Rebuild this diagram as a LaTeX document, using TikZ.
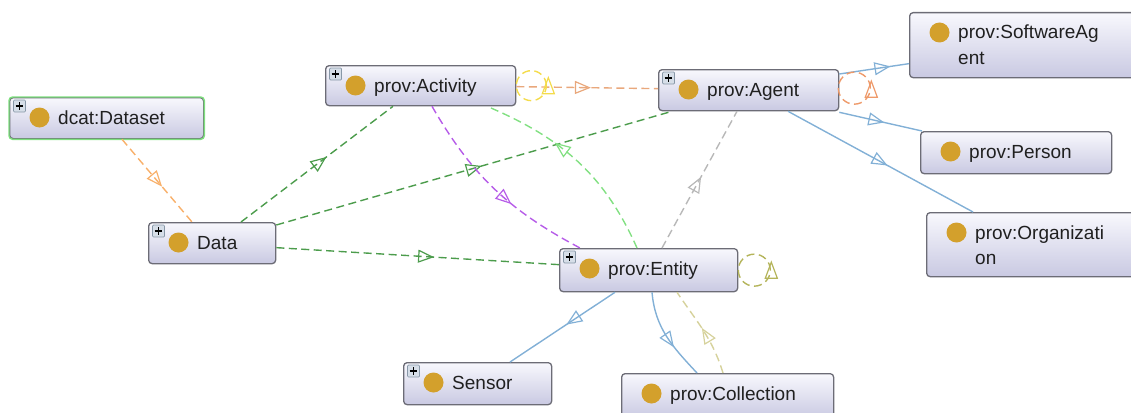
\documentclass[tikz,border=0pt]{standalone}
\usepackage{fontspec}
\setmainfont{Liberation Sans}
\usetikzlibrary{arrows.meta,decorations.markings}
\definecolor{boxtop}{HTML}{F8F8FD}
\definecolor{boxbot}{HTML}{C9C9E2}
\definecolor{boxborder}{HTML}{6C6C76}
\definecolor{dsborder}{HTML}{7EE07E}
\definecolor{gold}{HTML}{D3A02C}
\definecolor{txt}{HTML}{202020}
\definecolor{plusfill}{HTML}{D6DEE8}
\definecolor{plusdraw}{HTML}{8898A8}
\definecolor{orangeA}{HTML}{F8B06A}
\definecolor{orangeB}{HTML}{E9A87C}
\definecolor{orangeC}{HTML}{EE9A6A}
\definecolor{greenD}{HTML}{4C9C4C}
\definecolor{greenL}{HTML}{82E082}
\definecolor{purp}{HTML}{B65CE8}
\definecolor{grayE}{HTML}{B8B8B8}
\definecolor{blueE}{HTML}{82B0D6}
\definecolor{yellowE}{HTML}{F4DC4C}
\definecolor{oliveE}{HTML}{B4B45A}
\definecolor{oliveL}{HTML}{D6D29C}
\tikzset{
  x=1pt, y=-1pt,
  cls/.style={draw=boxborder, line width=1.3pt, rounded corners=3.5pt,
    top color=boxtop, bottom color=boxbot, inner sep=0pt, anchor=north west},
  dot/.style={circle, fill=gold, minimum size=20pt, inner sep=0pt},
  plusbox/.style={draw=plusdraw, fill=plusfill, minimum size=12pt, inner sep=0pt,
    rounded corners=1pt, line width=0.7pt},
  lbl/.style={anchor=base west, inner sep=0pt, font=\fontsize{19}{25}\selectfont,
    text=txt, align=left},
  midtip/.style={postaction={decorate}, decoration={markings,
    mark=at position #1 with {\arrow[xshift=8pt]{Triangle[open,length=16pt,width=13pt,line width=1.2pt]}}}},
  dsh/.style={line width=1.4pt, dash pattern=on 8pt off 4.5pt},
  sol/.style={line width=1.4pt},
  looptri/.style={line width=1.2pt, solid, line join=miter},
}
\newcommand\plusicon[1]{%
  \node[plusbox] (#1-p) at ([shift={(10.5,9)}]#1.north west) {};
  \draw[line width=1.3pt, black] ([shift={(-3.8,0)}]#1-p.center) -- ([shift={(3.8,0)}]#1-p.center)
    ([shift={(0,-3.8)}]#1-p.center) -- ([shift={(0,3.8)}]#1-p.center);}
\newcommand\klass[7][27]{% [baseline], name, x, y, w, h, text
  \node[cls, minimum width=#5pt, minimum height=#6pt] (#2) at (#3,#4) {};
  \node[dot] (#2-d) at ([shift={(30.5,20.5)}]#2.north west) {};
  \node[lbl] (#2-t) at ([shift={(49,#1)}]#2.north west) {#7};}
\begin{document}
\begin{tikzpicture}
\useasboundingbox (0,0) rectangle (1131,412);
\clip (0,0) rectangle (1131,412);

% nodes
\klass{dataset}{9}{97}{194}{41}{dcat:Dataset}
\draw[dsborder, line width=1.4pt, rounded corners=3.5pt] (dataset.north west) rectangle (dataset.south east);
\plusicon{dataset}
\klass{data}{148}{222}{127}{41}{Data}
\plusicon{data}
\klass{act}{325}{65}{190}{40}{prov:Activity}
\plusicon{act}
\klass{agent}{658}{69}{180}{41}{prov:Agent}
\plusicon{agent}
\klass[52]{swa}{909}{12}{240}{65}{prov:SoftwareAg\\ent}
\klass{person}{920}{131}{191}{42}{prov:Person}
\klass[52]{org}{926}{212}{220}{64}{prov:Organizati\\on}
\klass{entity}{559}{248}{178}{43}{prov:Entity}
\plusicon{entity}
\klass{sensor}{403}{362}{148}{42}{Sensor}
\plusicon{sensor}
\klass{coll}{621}{373}{212}{45}{prov:Collection}

% connectors
\draw[dsh, orangeA, midtip=0.5] ([xshift=113pt]dataset.south west) -- ([xshift=44pt]data.north west);
\draw[dsh, greenD, midtip=0.52] ([xshift=93pt]data.north west) -- ([xshift=68pt]act.south west);
\draw[dsh, greenD, midtip=0.5] ([yshift=-3pt]data.north east) -- ([xshift=14pt]agent.south west);
\draw[dsh, greenD, midtip=0.53] ([yshift=-4.5pt]data.east) -- ([yshift=5.5pt]entity.west);
\draw[dsh, orangeB, midtip=0.47] ([yshift=-1pt]act.east) -- ([yshift=1.5pt]agent.west);
\draw[dsh, purp, midtip=0.57] ([xshift=107pt]act.south west) to[out=-60,in=152] ([xshift=21pt]entity.north west);
\draw[dsh, greenL, midtip=0.6] ([xshift=78pt]entity.north west) to[out=114,in=-23] ([xshift=162pt]act.south west);
\draw[dsh, grayE, midtip=0.47] ([xshift=103pt]entity.north west) -- ([xshift=79pt]agent.south west);
\draw[sol, blueE, midtip=0.62] ([yshift=-5pt]agent.north east) -- ([yshift=-18.5pt]swa.west);
\draw[sol, blueE, midtip=0.45] ([yshift=-1pt]agent.south east) -- ([xshift=2pt]person.north west);
\draw[sol, blueE, midtip=0.5] ([xshift=130pt]agent.south west) -- ([xshift=47pt]org.north west);
\draw[sol, blueE, midtip=0.4] ([xshift=56pt]entity.south west) -- ([xshift=107pt]sensor.north west);
\draw[sol, blueE, midtip=0.55] ([xshift=93pt]entity.south west) to[out=-85,in=133] ([xshift=76pt]coll.north west);
\draw[dsh, oliveL, midtip=0.45] ([xshift=102pt]coll.north west) to[out=107,in=-56] ([xshift=118pt]entity.south west);

% self loops
\draw[dsh, yellowE] ([xshift=15pt]act.east) coordinate (actloop) circle[radius=15pt];
\draw[looptri, yellowE] ([shift={(17,-8)}]actloop) -- ++(6,16) -- ++(-12,0) -- cycle;
\draw[dsh, orangeC] ([shift={(15,-2)}]agent.east) coordinate (agloop) circle[radius=16pt];
\draw[looptri, orangeC] ([shift={(17,-7)}]agloop) -- ++(6,16) -- ++(-12,0) -- cycle;
\draw[dsh, oliveE] ([xshift=16pt]entity.east) coordinate (enloop) circle[radius=16pt];
\draw[looptri, oliveE] ([shift={(17,-8)}]enloop) -- ++(6,16) -- ++(-12,0) -- cycle;
\end{tikzpicture}
\end{document}
